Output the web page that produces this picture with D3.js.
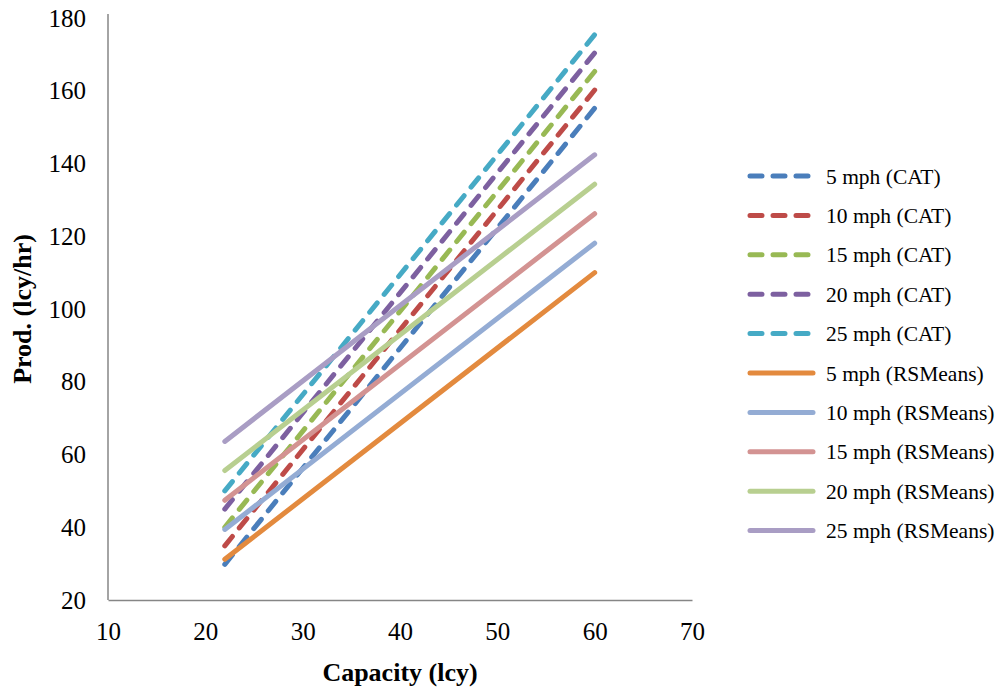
<!DOCTYPE html>
<html>
<head>
<meta charset="utf-8">
<script src="https://cdn.jsdelivr.net/npm/d3@7"></script>
<style>
  body { margin: 0; background: #fff; }
  text { font-family: "Liberation Serif", "Times New Roman", serif; fill: #000; }
</style>
</head>
<body>
<div id="chart"></div>
<script>
// Data: each series is a straight line between two capacities
let capacities = [22, 60];
let seriesNames = [
    '5 mph (CAT)', '10 mph (CAT)', '15 mph (CAT)', '20 mph (CAT)', '25 mph (CAT)',
    '5 mph (RSMeans)', '10 mph (RSMeans)', '15 mph (RSMeans)', '20 mph (RSMeans)', '25 mph (RSMeans)'
];
let seriesValues = [
    [29.8, 155.2],
    [34.9, 160.2],
    [40.0, 165.3],
    [45.0, 170.4],
    [50.0, 175.4],
    [31.2, 110.0],
    [39.4, 118.1],
    [47.4, 126.2],
    [55.6, 134.3],
    [63.6, 142.4]
];
let seriesDashed = [true, true, true, true, true, false, false, false, false, false];
let seriesColors = [
    '#4A7EBB', '#BE4B48', '#98B954', '#7D60A0', '#46AAC5',
    '#E38A3E', '#94ACD4', '#D39392', '#B8CF90', '#A99DC4'
];
let xTicks = [10, 20, 30, 40, 50, 60, 70];
let yTicks = [20, 40, 60, 80, 100, 120, 140, 160, 180];

let W = 998, H = 688;
let margin = { top: 18, right: 306, bottom: 88, left: 108 };
let width = W - margin.left - margin.right,
    height = H - margin.top - margin.bottom;

let x = d3.scaleLinear().domain([10, 70]).range([0, width]);
let y = d3.scaleLinear().domain([20, 180]).range([height, 0]);

let svg = d3.select('#chart')
    .append('svg')
    .attr('width', W)
    .attr('height', H)
    .append('g')
    .attr('transform', 'translate(' + margin.left + ',' + margin.top + ')');

// Axes
let xAxis = svg.append('g')
    .attr('transform', 'translate(0,' + height + ')')
    .call(d3.axisBottom(x).tickValues(xTicks).tickSize(0).tickPadding(22));
let yAxis = svg.append('g')
    .call(d3.axisLeft(y).tickValues(yTicks).tickSize(0).tickPadding(22));

[xAxis, yAxis].forEach(function (a) {
    a.select('.domain').attr('stroke', '#868686').attr('stroke-width', 1.5);
    a.selectAll('text')
        .style('font-family', '"Liberation Serif", serif')
        .style('font-size', '25px')
        .attr('fill', '#000');
});
yAxis.select('.domain').attr('d', 'M0,' + height + 'V-4');

// Lines
let line = d3.line()
    .x(function (d) { return x(d[0]); })
    .y(function (d) { return y(d[1]); });

seriesValues.forEach(function (vals, i) {
    let pts = capacities.map(function (c, j) { return [c, vals[j]]; });
    svg.append('path')
        .datum(pts)
        .attr('fill', 'none')
        .attr('stroke', seriesColors[i])
        .attr('stroke-width', 5)
        .attr('stroke-linecap', 'round')
        .attr('stroke-dasharray', seriesDashed[i] ? '12,11' : null)
        .attr('d', line);
});

// Axis titles
svg.append('text')
    .attr('x', width / 2)
    .attr('y', height + 81)
    .attr('text-anchor', 'middle')
    .style('font-size', '26px')
    .style('font-weight', 'bold')
    .text('Capacity (lcy)');

svg.append('text')
    .attr('transform', 'translate(' + (-77) + ',' + (height / 2) + ') rotate(-90)')
    .attr('text-anchor', 'middle')
    .style('font-size', '26px')
    .style('font-weight', 'bold')
    .text('Prod. (lcy/hr)');

// Legend
let legend = d3.select('svg').append('g')
    .attr('transform', 'translate(750,176)');

seriesNames.forEach(function (name, i) {
    let g = legend.append('g').attr('transform', 'translate(0,' + (i * 39.4) + ')');
    g.append('line')
        .attr('x1', 0).attr('x2', seriesDashed[i] ? 62 : 63)
        .attr('y1', 0).attr('y2', 0)
        .attr('stroke', seriesColors[i])
        .attr('stroke-width', 5)
        .attr('stroke-linecap', 'round')
        .attr('stroke-dasharray', seriesDashed[i] ? '12,11' : null);
    g.append('text')
        .attr('x', 76)
        .attr('dy', '0.35em')
        .style('font-size', '21.5px')
        .text(name);
});
</script>
</body>
</html>
